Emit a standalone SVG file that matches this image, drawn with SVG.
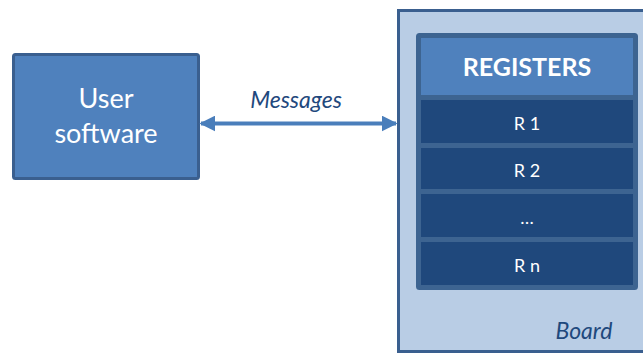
<svg xmlns="http://www.w3.org/2000/svg" width="643" height="354" viewBox="0 0 643 354">
<style>
.t{font-family:Lato,"Open Sans","Liberation Sans",sans-serif;fill:#fff;text-anchor:middle}
.lbl{font-family:Lato,"Open Sans","Liberation Sans",sans-serif;font-style:italic;fill:#1F497D;text-anchor:middle;font-size:23px}
.row{fill:#1F487C}
</style>
<defs>
<marker id="ah" viewBox="0 0 10 10" refX="9" refY="5" markerWidth="4" markerHeight="4" orient="auto-start-reverse">
<path d="M0,0 L10,5 L0,10 z" fill="#4A7EBB"/>
</marker>
</defs>
<rect width="643" height="354" fill="#fff"/>
<g id="board">
<rect x="398.5" y="10.5" width="250" height="341" fill="#B9CDE5" stroke="#3A5F8F" stroke-width="3"/>
<text class="lbl" x="584" y="339">Board</text>
</g>
<g id="registers">
<rect x="417.5" y="34.5" width="219" height="254" rx="2" fill="#3D6491" stroke="#3D6491" stroke-width="3"/>
<rect x="421" y="38" width="212" height="57" fill="#4F81BD"/>
<text class="t" x="527" y="76" font-size="25" font-weight="bold">REGISTERS</text>
</g>
<g id="r1"><rect class="row" x="421" y="100" width="212" height="43"/><text class="t" x="527" y="130" font-size="18">R 1</text></g>
<g id="r2"><rect class="row" x="421" y="148" width="212" height="41"/><text class="t" x="527" y="177" font-size="18">R 2</text></g>
<g id="rdots"><rect class="row" x="421" y="194" width="212" height="43"/><text class="t" x="527" y="224" font-size="18">…</text></g>
<g id="rn"><rect class="row" x="421" y="242" width="212" height="43"/><text class="t" x="527" y="272" font-size="18">R n</text></g>
<g id="user">
<rect x="13.5" y="54.5" width="185" height="124" rx="2" fill="#4F81BD" stroke="#3A5F8F" stroke-width="3"/>
<text class="t" x="106" y="108" font-size="27">User</text>
<text class="t" x="106" y="143" font-size="27">software</text>
</g>
<g id="connectors">
<line x1="201" y1="123.5" x2="396" y2="123.5" stroke="#4A7EBB" stroke-width="4" marker-start="url(#ah)" marker-end="url(#ah)"/>
<text class="lbl" x="296" y="108">Messages</text>
</g>
</svg>
